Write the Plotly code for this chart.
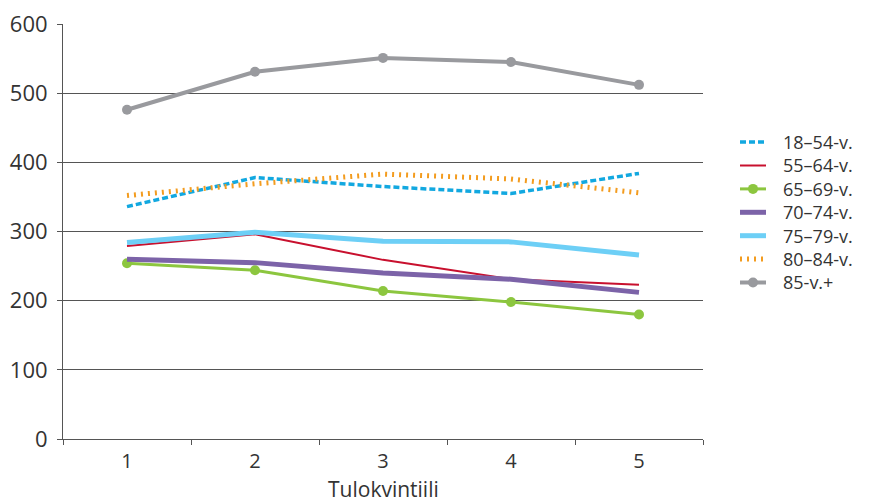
import plotly.graph_objects as go

quintiles = ["1", "2", "3", "4", "5"]
s_18_54 = [336, 378, 365, 355, 384]
s_55_64 = [279, 296, 259, 231, 223]
s_65_69 = [254, 244, 214, 198, 180]
s_70_74 = [260, 255, 240, 231, 212]
s_75_79 = [284, 299, 286, 285, 266]
s_80_84 = [352, 369, 383, 376, 356]
s_85 = [476, 531, 551, 545, 512]
x_title = "Tulokvintiili"

series = [
    ("18–54-v.", s_18_54, dict(color="#12A8E0", width=3.5, dash="6px,3px"), None),
    ("55–64-v.", s_55_64, dict(color="#C8102E", width=2), None),
    ("65–69-v.", s_65_69, dict(color="#8CC63F", width=3), dict(size=10, color="#8CC63F")),
    ("70–74-v.", s_70_74, dict(color="#7C63A8", width=5), None),
    ("75–79-v.", s_75_79, dict(color="#6DCFF6", width=5), None),
    ("80–84-v.", s_80_84, dict(color="#F39C1F", width=5, dash="2px,5px"), None),
    ("85-v.+", s_85, dict(color="#999A9E", width=4), dict(size=10, color="#999A9E")),
]

W, H = 866, 494
ML, MR, MT, MB = 55, 171, 16, 63
PW, PH = W - ML - MR, H - MT - MB

fig = go.Figure()
for name, vals, line, marker in series:
    fig.add_trace(go.Scatter(
        x=quintiles, y=vals, name=name,
        mode="lines+markers" if marker else "lines",
        line=line, marker=marker, showlegend=False,
    ))

def px_x(px):
    return (px - ML) / PW

def px_y(py):
    return 1 - (py - MT) / PH

# manual legend (sample line + label), placed in paper coordinates
LEG_FS = 18
row_gap = LEG_FS * 1.3
row_mid = 204.3
row0 = row_mid - 3 * row_gap
x0, x1, xt = px_x(732), px_x(758), px_x(774)
for i, (name, vals, line, marker) in enumerate(series):
    yy = px_y(row0 + i * row_gap)
    fig.add_shape(type="line", xref="paper", yref="paper", x0=x0, x1=x1, y0=yy, y1=yy,
                  line=dict(color=line["color"], width=line["width"], dash=line.get("dash", "solid")))
    if marker:
        fig.add_shape(type="circle", xref="paper", yref="paper",
                      xsizemode="pixel", ysizemode="pixel",
                      xanchor=(x0 + x1) / 2, yanchor=yy,
                      x0=-5, x1=5, y0=-5, y1=5,
                      fillcolor=marker["color"], line=dict(width=0))
fig.add_annotation(x=xt, y=px_y(row_mid), xref="paper", yref="paper",
                   text="<br>".join(s[0] for s in series),
                   showarrow=False, xanchor="left", yanchor="middle", align="left",
                   borderpad=0, font=dict(size=LEG_FS, color="#333333"))

# x-axis title
fig.add_annotation(x=0.5, y=px_y(481), xref="paper", yref="paper", text=x_title,
                   showarrow=False, xanchor="center", yanchor="middle", borderpad=0,
                   font=dict(size=21, color="#333333"))

font_family = "Open Sans, Noto Sans, sans-serif"
fig.update_layout(
    width=W, height=H,
    margin=dict(l=ML, r=MR, t=MT, b=MB, autoexpand=False),
    paper_bgcolor="white", plot_bgcolor="white",
    font=dict(family=font_family, size=22, color="#333333"),
    showlegend=False,
    xaxis=dict(
        type="category", range=[-0.5, 4.5], automargin=False,
        showline=True, linecolor="#555555", linewidth=1,
        ticks="outside", tickson="boundaries", ticklen=5, tickcolor="#555555",
        showgrid=False, zeroline=False, ticklabelstandoff=4,
        tickfont=dict(size=20),
    ),
    yaxis=dict(
        range=[0, 600], tick0=0, dtick=100, automargin=False,
        showline=True, linecolor="#555555", linewidth=1,
        ticks="outside", ticklen=5, tickcolor="#555555",
        showgrid=True, gridcolor="#555555", gridwidth=1,
        zeroline=False, tickfont=dict(size=22), ticklabelstandoff=5,
        ticklabeloverflow="allow",
    ),
)

fig.write_html("out.html")
